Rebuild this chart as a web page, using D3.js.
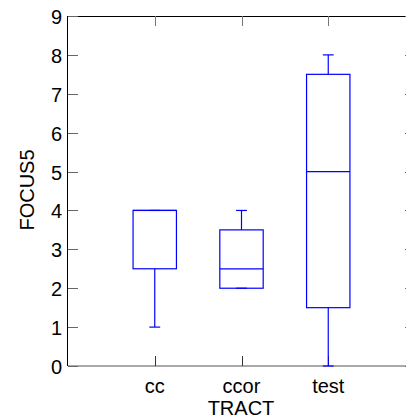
<!DOCTYPE html>
<html>
<head>
<meta charset="utf-8">
<script src="https://cdn.jsdelivr.net/npm/d3@7"></script>
<style>
  html, body { margin: 0; padding: 0; background: #fff; }
  svg { display: block; }
  text { font-family: "Liberation Sans", Arial, Helvetica, sans-serif; fill: #000; }
</style>
</head>
<body>
<svg id="chart" width="406" height="418"></svg>
<script>
// Group names and five-number summaries for FOCUS5 by TRACT
const categories = ["cc", "ccor", "test"];
const whiskerLow = [1, 2, 0];
const q1 = [2.5, 2, 1.5];
const medians = [4, 2.5, 5];
const q3 = [4, 3.5, 7.5];
const whiskerHigh = [4, 4, 8];
const yTicks = [0, 1, 2, 3, 4, 5, 6, 7, 8, 9];

const svg = d3.select("#chart");
const plotLeft = 68, plotRight = 415, plotTop = 16, plotBottom = 366;

// Category positions 1..n on a numeric axis spanning [0, n+1]
const x = d3.scaleLinear().domain([0, categories.length + 1]).range([plotLeft, plotRight]);
const y = d3.scaleLinear().domain([0, 9]).range([plotBottom, plotTop]);

const boxHalf = 0.25, capHalf = 0.0625;
const blue = "#0000ff";
const tickLen = 10;

const g = svg.append("g");

// Axes frame
g.append("line").attr("x1", plotLeft).attr("x2", plotRight).attr("y1", plotTop + 0.5).attr("y2", plotTop + 0.5)
  .attr("stroke", "#000").attr("stroke-width", 1);
g.append("line").attr("x1", plotLeft - 0.5).attr("x2", plotLeft - 0.5).attr("y1", plotTop).attr("y2", plotBottom)
  .attr("stroke", "#000").attr("stroke-width", 1);
g.append("line").attr("x1", plotLeft).attr("x2", plotRight).attr("y1", plotBottom).attr("y2", plotBottom)
  .attr("stroke", "#555").attr("stroke-width", 1);

// Y ticks on both sides
yTicks.forEach(t => {
  const yy = Math.round(y(t)) + 0.5;
  g.append("line").attr("x1", plotLeft).attr("x2", plotLeft + tickLen).attr("y1", yy).attr("y2", yy)
    .attr("stroke", "#666");
  g.append("line").attr("x1", plotRight - tickLen).attr("x2", plotRight).attr("y1", yy).attr("y2", yy)
    .attr("stroke", "#666");
  g.append("text").attr("x", plotLeft - 6).attr("y", y(t)).attr("dy", "0.4em")
    .attr("text-anchor", "end").attr("font-size", 20).text(t);
});

// X ticks top and bottom, with category labels
categories.forEach((c, i) => {
  const xx = Math.round(x(i + 1)) + 0.5;
  g.append("line").attr("x1", xx).attr("x2", xx).attr("y1", plotBottom).attr("y2", plotBottom - tickLen)
    .attr("stroke", "#333");
  g.append("line").attr("x1", xx).attr("x2", xx).attr("y1", plotTop).attr("y2", plotTop + tickLen)
    .attr("stroke", "#777");
  g.append("text").attr("x", x(i + 1)).attr("y", 393).attr("text-anchor", "middle")
    .attr("font-size", 20).text(c);
});

// Axis titles
svg.append("text").attr("x", 241).attr("y", 415).attr("text-anchor", "middle")
  .attr("font-size", 20).text("TRACT");
svg.append("text").attr("transform", "translate(34,190) rotate(-90)")
  .attr("text-anchor", "middle").attr("font-size", 20).text("FOCUS5");

// Boxes, medians, whiskers and caps
const boxes = g.append("g").attr("stroke", blue).attr("stroke-width", 1.2).attr("fill", "none");
categories.forEach((c, i) => {
  const cx = i + 1;
  boxes.append("rect")
    .attr("x", x(cx - boxHalf)).attr("y", y(q3[i]))
    .attr("width", x(cx + boxHalf) - x(cx - boxHalf))
    .attr("height", y(q1[i]) - y(q3[i]));
  boxes.append("line").attr("x1", x(cx - boxHalf)).attr("x2", x(cx + boxHalf))
    .attr("y1", y(medians[i])).attr("y2", y(medians[i]));
  // upper whisker
  boxes.append("line").attr("x1", x(cx)).attr("x2", x(cx))
    .attr("y1", y(q3[i])).attr("y2", y(whiskerHigh[i]));
  boxes.append("line").attr("x1", x(cx - capHalf)).attr("x2", x(cx + capHalf))
    .attr("y1", y(whiskerHigh[i])).attr("y2", y(whiskerHigh[i]));
  // lower whisker
  boxes.append("line").attr("x1", x(cx)).attr("x2", x(cx))
    .attr("y1", y(q1[i])).attr("y2", y(whiskerLow[i]));
  boxes.append("line").attr("x1", x(cx - capHalf)).attr("x2", x(cx + capHalf))
    .attr("y1", y(whiskerLow[i])).attr("y2", y(whiskerLow[i]));
});
</script>
</body>
</html>
